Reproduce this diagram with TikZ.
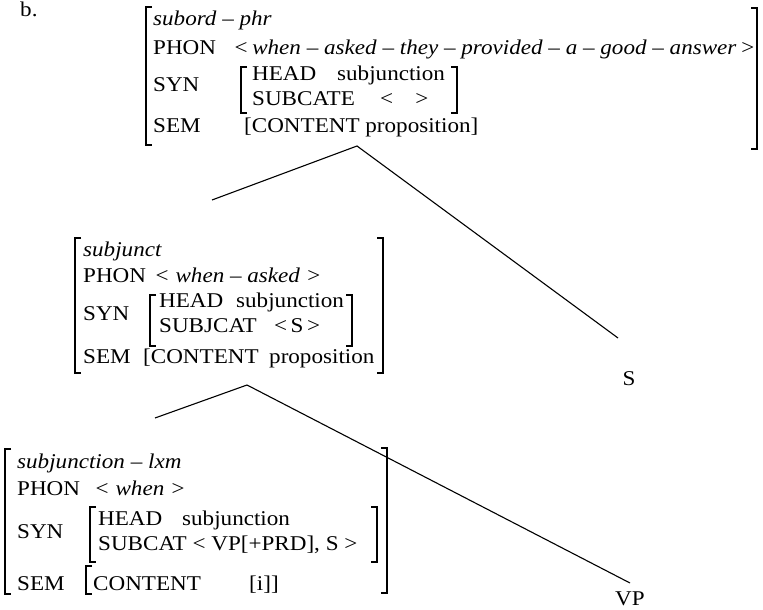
\documentclass[tikz,border=0pt]{standalone}
\usepackage{fontspec}
\setmainfont{Liberation Serif}[FakeStretch=1.1]
\begin{document}
\begin{tikzpicture}[x=1pt,y=-1pt,
  txt/.style={anchor=base west,inner sep=0pt,font=\fontsize{21}{23}\selectfont},
  lbl/.style={anchor=base,inner sep=0pt,font=\fontsize{21}{23}\selectfont},
  brk/.style={line width=1.2pt},
  branch/.style={line width=1.1pt}]
\useasboundingbox (0,0) rectangle (763,610);
% label
\node[txt] (b) at (20,17) {b.};
% ---------- top AVM ----------
\draw[brk] (152,7) -- (146,7) -- (146,145) -- (152,145);
\draw[brk] (751,8) -- (757,8) -- (757,149) -- (751,149);
\node[txt] (t1) at (153,26) {\textit{subord – phr}};
\node[txt] (t2) at (153,55) {PHON};
\node[txt] (t2v) at (233,55) {\textit{<\,when – asked – they – provided – a – good – answer\,>}};
\node[txt] (t3) at (153,92) {SYN};
\draw[brk] (247,67) -- (241,67) -- (241,113) -- (247,113);
\draw[brk] (451,67) -- (457,67) -- (457,113) -- (451,113);
\node[txt] (t3a) at (252,81) {HEAD};
\node[txt] (t3av) at (337,81) {subjunction};
\node[txt] (t3b) at (252,105) {SUBCATE};
\node[txt] (t3bv) at (380,105) {<\hspace{1.05em}>};
\node[txt] (t4) at (153,132) {SEM};
\node[txt] (t4v) at (244,132) {[CONTENT proposition]};
\coordinate (ta) at (357,146);
\coordinate (tl) at (212,200);
\coordinate (te) at (618,338);
\node[lbl] (S) at (629,385) {S};
\draw[branch] (tl) -- (ta) -- (te);
% ---------- middle AVM ----------
\draw[brk] (81,238) -- (75,238) -- (75,373) -- (81,373);
\draw[brk] (377,238) -- (383,238) -- (383,373) -- (377,373);
\node[txt] (m1) at (83,256) {\textit{subjunct}};
\node[txt] (m2) at (83,282) {PHON};
\node[txt] (m2v) at (154,282) {\textit{< when – asked >}};
\node[txt] (m3) at (83,320) {SYN};
\draw[brk] (156,295) -- (150,295) -- (150,346) -- (156,346);
\draw[brk] (346,295) -- (352,295) -- (352,346) -- (346,346);
\node[txt] (m3a) at (159,307) {HEAD};
\node[txt] (m3av) at (236,307) {subjunction};
\node[txt] (m3b) at (159,332) {SUBJCAT};
\node[txt] (m3bv) at (274,332) {<\,S\,>};
\node[txt] (m4) at (83,363) {SEM};
\node[txt] (m4v) at (143,363) {[CONTENT};
\node[txt] (m4w) at (269,363) {proposition};
\coordinate (ma) at (247,385);
\coordinate (ml) at (155,418);
\coordinate (me) at (630,583);
\node[lbl] (VP) at (630,605) {VP};
\draw[branch] (ml) -- (ma) -- (me);
% ---------- bottom AVM ----------
\draw[brk] (11,449) -- (5,449) -- (5,594) -- (11,594);
\draw[brk] (381,448) -- (387,448) -- (387,593) -- (381,593);
\node[txt] (b1) at (17,468) {\textit{subjunction – lxm}};
\node[txt] (b2) at (17,495) {PHON};
\node[txt] (b2v) at (94,495) {\textit{< when >}};
\node[txt] (b3) at (17,538) {SYN};
\draw[brk] (96,507) -- (90,507) -- (90,562) -- (96,562);
\draw[brk] (371,507) -- (377,507) -- (377,562) -- (371,562);
\node[txt] (b3a) at (98,525) {HEAD};
\node[txt] (b3av) at (182,525) {subjunction};
\node[txt] (b3b) at (98,550) {SUBCAT < VP[+PRD], S >};
\node[txt] (b4) at (17,590) {SEM};
\draw[brk] (92,566) -- (86,566) -- (86,594) -- (92,594);
\node[txt] (b4v) at (93,590) {CONTENT};
\node[txt] (b4w) at (249,590) {[i]]};
\end{tikzpicture}
\end{document}
